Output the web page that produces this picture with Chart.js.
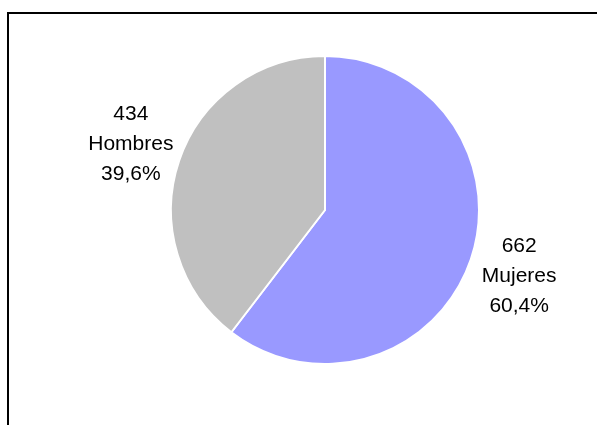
<!DOCTYPE html>
<html>
<head>
<meta charset="utf-8">
<script src="https://cdn.jsdelivr.net/npm/chart.js@4/dist/chart.umd.min.js"></script>
<style>
  html, body { margin: 0; padding: 0; background: #fff; }
  #wrap { position: relative; width: 597px; height: 425px; overflow: hidden; }
  #frame {
    position: absolute; left: 7px; top: 12px; width: 700px; height: 500px;
    border-top: 2px solid #000; border-left: 2px solid #000;
  }
  canvas { position: absolute; left: 0; top: 0; }
</style>
</head>
<body>
<div id="wrap">
  <div id="frame"></div>
  <canvas id="pieChart" width="597" height="425"></canvas>
</div>
<script>
// Genero
const categories = ['Mujeres', 'Hombres'];
const counts = [662, 434];
const percents = ['60,4%', '39,6%'];
const colors = ['#9999FF', '#C0C0C0'];

// draws "count / name / percent" outside each slice
const outsideLabels = {
    id: 'outsideLabels',
    afterDatasetsDraw(chart) {
        const ctx = chart.ctx;
        const meta = chart.getDatasetMeta(0);
        ctx.save();
        ctx.font = '21px "Liberation Sans", Arial, sans-serif';
        ctx.fillStyle = '#000';
        ctx.textAlign = 'center';
        ctx.textBaseline = 'middle';
        meta.data.forEach((arc, i) => {
            const p = arc.getProps(['x', 'y', 'startAngle', 'endAngle', 'outerRadius'], true);
            const mid = (p.startAngle + p.endAngle) / 2;
            const r = p.outerRadius + 51;
            const cx = p.x + Math.cos(mid) * r;
            const cy = p.y + Math.sin(mid) * r;
            const lines = [String(counts[i]), categories[i], percents[i]];
            lines.forEach((t, j) => ctx.fillText(t, cx, cy + (j - 1) * 30));
        });
        ctx.restore();
    }
};

new Chart(document.getElementById('pieChart').getContext('2d'), {
    type: 'pie',
    data: {
        labels: categories,
        datasets: [{
            data: counts,
            backgroundColor: colors,
            borderColor: '#fff',
            borderWidth: 2
        }]
    },
    options: {
        responsive: false,
        animation: false,
        layout: {
            padding: { left: 170, right: 117, top: 55, bottom: 60 }
        },
        plugins: {
            legend: { display: false },
            tooltip: { enabled: false }
        }
    },
    plugins: [outsideLabels]
});
</script>
</body>
</html>
